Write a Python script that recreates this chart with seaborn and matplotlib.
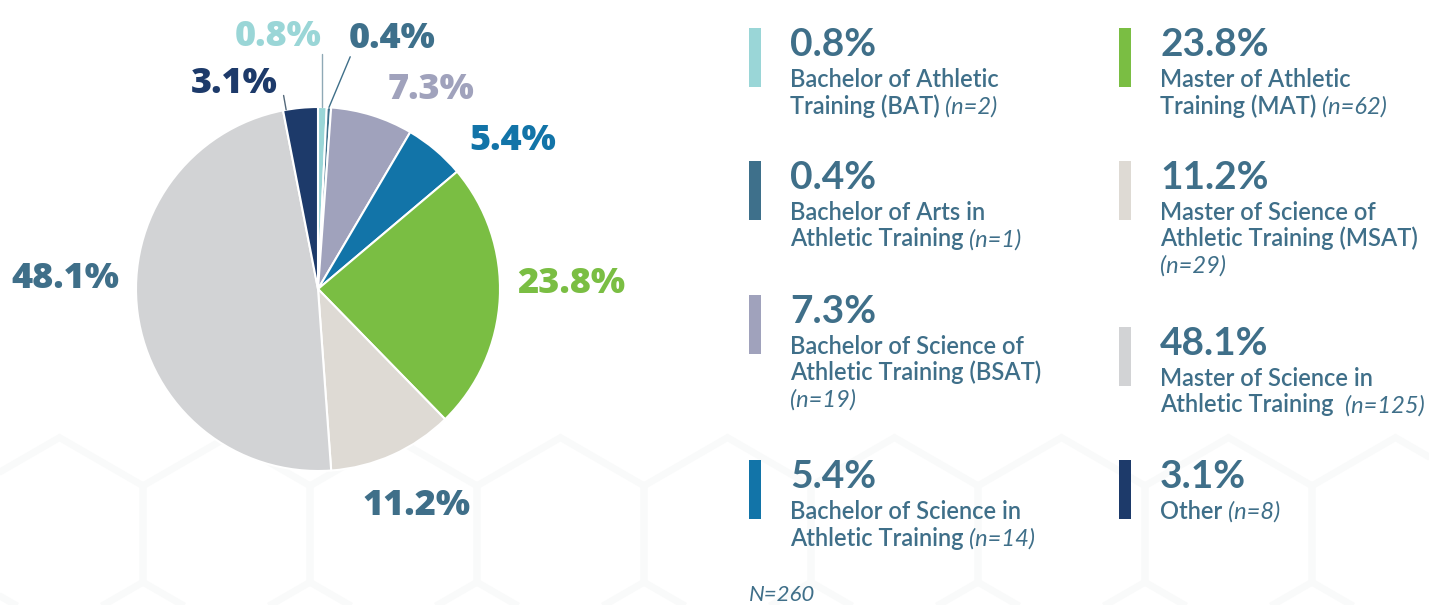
"""
Athletic training degree distribution: pie + custom legend.
"""

import numpy as np
import matplotlib
matplotlib.use("Agg")
import matplotlib.pyplot as plt
from matplotlib.patches import Rectangle, RegularPolygon
import seaborn as sns

# --- data ---
degrees = [
    "Bachelor of Athletic Training (BAT)",
    "Bachelor of Arts in Athletic Training",
    "Bachelor of Science of Athletic Training (BSAT)",
    "Bachelor of Science in Athletic Training",
    "Master of Athletic Training (MAT)",
    "Master of Science of Athletic Training (MSAT)",
    "Master of Science in Athletic Training",
    "Other",
]
counts = [2, 1, 19, 14, 62, 29, 125, 8]
total_n = 260

# legend text, as wrapped in the original (last element gets the "(n=..)")
legend_lines = [
    ["Bachelor of Athletic", "Training (BAT)"],
    ["Bachelor of Arts in", "Athletic Training"],
    ["Bachelor of Science of", "Athletic Training (BSAT)"],
    ["Bachelor of Science in", "Athletic Training"],
    ["Master of Athletic", "Training (MAT)"],
    ["Master of Science of", "Athletic Training (MSAT)"],
    ["Master of Science in", "Athletic Training "],
    ["Other"],
]
n_on_new_line = [False, False, True, False, False, True, False, False]

# --- style ---
sns.set_theme(style="white")
plt.rcParams["font.family"] = ["Lato", "DejaVu Sans"]
COLORS = sns.color_palette(["#9AD6D7", "#3E708B", "#A0A2BC", "#1274A8",
                            "#7ABE43", "#DEDAD4", "#D2D3D5", "#1D3A6A"])
TEXT = "#3F6F89"
LABEL_COLORS = [COLORS[0], COLORS[1], COLORS[2], COLORS[3], COLORS[4], TEXT, TEXT, COLORS[7]]

W, H = 1429, 605
pct = [c / total_n * 100 for c in counts]


def fx(x):
    return x / W


def fy(y):
    return 1 - y / H


fig = plt.figure(figsize=(W / 100, H / 100), dpi=100, facecolor="white")

# faint honeycomb in the background
bg = fig.add_axes([0, 0, 1, 1], zorder=-5)
bg.set_xlim(0, W)
bg.set_ylim(H, 0)
bg.axis("off")
side = 167 / np.sqrt(3)
for k in range(-1, 9):
    hx = RegularPolygon((143 + 83.5 + 167 * k, 534), 6, radius=side,
                        orientation=0, facecolor="none",
                        edgecolor="#f9fafa", linewidth=5)
    bg.add_patch(hx)

# --- pie ---
cx, cy, r = 318, 289, 182
ax = fig.add_axes([fx(cx - r), fy(cy + r), 2 * r / W, 2 * r / H])
wedges, _ = ax.pie(counts, colors=COLORS, startangle=90, counterclock=False,
                   wedgeprops=dict(edgecolor="white", linewidth=1.5))
ax.set_xlim(-1, 1)
ax.set_ylim(-1, 1)
ax.set_aspect("equal")

# label anchor positions (in pie-radius units)
label_xy = [(-0.22, 1.41), (0.41, 1.40), (0.62, 1.12), (1.07, 0.84),
            (1.39, 0.05), (0.54, -1.17), (-1.39, 0.08), (-0.46, 1.15)]
for i, (p, (lx, ly)) in enumerate(zip(pct, label_xy)):
    ax.text(lx, ly, f"{p:.1f}%", ha="center", va="center_baseline",
            fontsize=26, fontweight="heavy", family=["Open Sans", "DejaVu Sans"],
            color=LABEL_COLORS[i], clip_on=False)

# leader lines for the thin slices
for i, end, col in [(0, None, "#8FA9B6"), (1, (0.177, 1.276), TEXT)]:
    w = wedges[i]
    a = np.deg2rad((w.theta1 + w.theta2) / 2)
    x0, y0 = np.cos(a), np.sin(a)
    x1, y1 = (x0, 1.29) if end is None else end
    ax.plot([x0, x1], [y0, y1], color=col, lw=1, clip_on=False)
w = wedges[7]
a = np.deg2rad(w.theta2 - 1)
ax.plot([np.cos(a), 1.08 * np.cos(a)], [np.sin(a), 1.08 * np.sin(a)],
        color="#53687A", lw=1, clip_on=False)

# --- legend blocks ---
col_x = [749, 1119]
row_tops = [28, 161, 295, 460, 28, 161, 327, 460]
for i in range(len(degrees)):
    bx = col_x[i // 4]
    top = row_tops[i]
    fig.add_artist(Rectangle((fx(bx), fy(top + 59)), 12 / W, 59 / H,
                             transform=fig.transFigure, color=COLORS[i], lw=0))
    tx = bx + 41
    fig.text(fx(tx), fy(top + 28), f"{pct[i]:.1f}%", fontsize=28,
             fontweight="bold", color=TEXT, va="baseline", ha="left")
    lines = legend_lines[i]
    last = None
    for j, line in enumerate(lines):
        last = fig.text(fx(tx), fy(top + 59 + 26.5 * j), line, fontsize=17,
                        fontweight="semibold", color=TEXT, va="baseline", ha="left")
    ntxt = f"(n={counts[i]})"
    if n_on_new_line[i]:
        fig.text(fx(tx), fy(top + 59 + 26.5 * len(lines)), ntxt, fontsize=17,
                 style="italic", color=TEXT, va="baseline", ha="left")
    else:
        ax.annotate(ntxt, xy=(1, 0), xycoords=last, xytext=(4, 0),
                    textcoords="offset points", fontsize=17, style="italic",
                    color=TEXT, va="bottom", ha="left", annotation_clip=False)

fig.text(fx(749), fy(601), f"N={total_n}", fontsize=16, style="italic",
         color=TEXT, va="baseline", ha="left")

fig.savefig("out.png", dpi=100, facecolor="white")
